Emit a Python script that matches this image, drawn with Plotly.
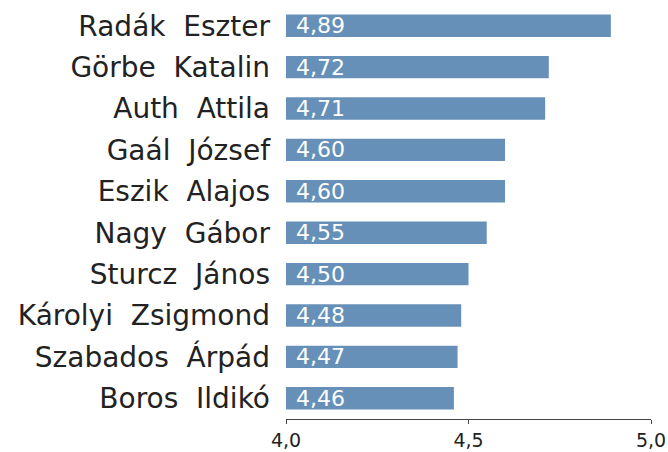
import plotly.graph_objects as go

names = ["Radák Eszter", "Görbe Katalin", "Auth Attila", "Gaál József", "Eszik Alajos",
         "Nagy Gábor", "Sturcz János", "Károlyi Zsigmond", "Szabados Árpád", "Boros Ildikó"]
values = [4.89, 4.72, 4.71, 4.60, 4.60, 4.55, 4.50, 4.48, 4.47, 4.46]
tick_vals = [4.0, 4.5, 5.0]
tick_text = ["4,0", "4,5", "5,0"]

labels = [n.replace(" ", "\u00a0\u00a0") for n in names]
texts = ["\u00a0" + f"{v:.2f}".replace(".", ",") for v in values]

fig = go.Figure(go.Bar(
    y=labels, x=[v - 4.0 for v in values], base=4.0, orientation="h",
    marker=dict(color="#6690b8", line=dict(width=0)),
    text=texts, textposition="inside", insidetextanchor="start", constraintext="none",
    textfont=dict(color="white", size=22, family="DejaVu Sans"),
    cliponaxis=False, width=0.54, hoverinfo="skip",
))
fig.update_layout(
    width=668, height=452, plot_bgcolor="white", paper_bgcolor="white",
    margin=dict(l=286, r=17, t=5, b=33),
    showlegend=False, separators=",.",
)
fig.update_yaxes(autorange="reversed", showgrid=False, ticks="", ticklabelstandoff=15,
                 automargin=False,
                 tickfont=dict(size=28, color="#222222", family="DejaVu Sans"))
fig.update_xaxes(range=[4.0, 5.0], tickvals=tick_vals, ticktext=tick_text, showgrid=False,
                 automargin=False,
                 showline=True, linecolor="#444444", linewidth=1, ticks="outside", ticklen=4,
                 tickcolor="#444444", tickfont=dict(size=19, color="#222222", family="DejaVu Sans"),
                 zeroline=False)
fig.write_html("out.html", config={"displayModeBar": False},
               post_script="document.body.style.margin='0';document.body.style.overflow='hidden';")
